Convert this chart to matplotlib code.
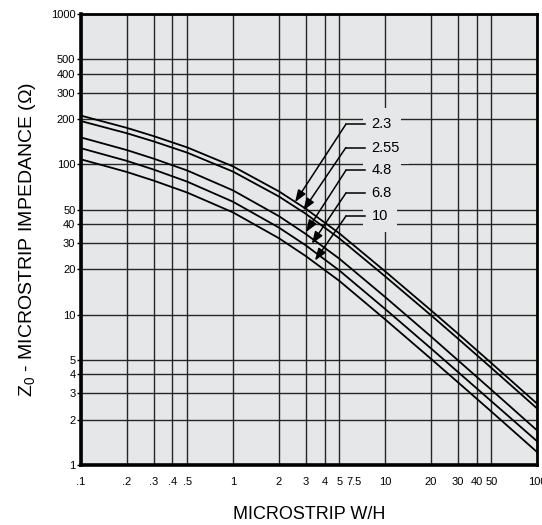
import numpy as np
import matplotlib
matplotlib.use('Agg')
import matplotlib.pyplot as plt
import matplotlib.transforms as mtransforms

plt.rcParams['font.family'] = ['Liberation Sans', 'DejaVu Sans']
plt.rcParams['mathtext.fontset'] = 'custom'
plt.rcParams['mathtext.rm'] = 'Liberation Sans'
plt.rcParams['mathtext.it'] = 'Liberation Sans'

# W/H values and impedance, one list per dielectric constant
wh = [0.1, 0.2, 0.3, 0.5, 1, 2, 3, 5, 10, 20, 30, 50, 100]
z_2_3 = [210.9, 174.9, 154.2, 129.6, 96.9, 66.2, 50.8, 34.8, 19.45, 10.72, 7.52, 4.77, 2.56]
z_2_55 = [194.0, 161.1, 142.2, 119.6, 89.5, 61.2, 47.0, 32.2, 18.01, 9.94, 6.97, 4.43, 2.38]
z_4_8 = [151.0, 124.5, 109.2, 91.0, 67.1, 45.3, 34.5, 23.6, 13.13, 7.18, 5.0, 3.17, 1.70]
z_6_8 = [128.0, 105.5, 92.4, 76.7, 56.4, 38.0, 29.0, 19.7, 10.93, 5.98, 4.18, 2.66, 1.44]
z_10 = [108.0, 89.0, 78.0, 64.9, 47.9, 32.3, 24.6, 16.8, 9.32, 5.10, 3.57, 2.27, 1.22]

curves = [z_2_3, z_2_55, z_4_8, z_6_8, z_10]
er_labels = ['2.3', '2.55', '4.8', '6.8', '10']
# where each arrow points (W/H, Z0)
arrow_tips = [(2.56, 56), (2.9, 49.4), (3.02, 35.4), (3.3, 29.6), (3.46, 22.9)]

x_ticks = [0.1, 0.2, 0.3, 0.4, 0.5, 1, 2, 3, 4, 5, 10, 20, 30, 40, 50, 100]
x_ticklabels = ['.1', '.2', '.3', '.4', '.5', '1', '2', '3', '4', '5', '10', '20', '30', '40', '50', '100']
y_ticks = [1, 2, 3, 4, 5, 10, 20, 30, 40, 50, 100, 200, 300, 400, 500, 1000]

bg = '#e6e7e8'

fig = plt.figure(figsize=(5.42, 5.25), dpi=100)
ax = fig.add_axes([0.1494, 0.1143, 0.8414, 0.859])
ax.set_facecolor(bg)
ax.set_xscale('log')
ax.set_yscale('log')
ax.set_xlim(0.1, 100)
ax.set_ylim(1, 1000)

ax.set_xticks(x_ticks)
ax.set_xticklabels(x_ticklabels)
ax.set_xticks([7.5], minor=True)
ax.set_xticklabels(['7.5'], minor=True)
ax.set_yticks(y_ticks)
ax.set_yticklabels([str(v) for v in y_ticks])
ax.set_yticks([], minor=True)

ax.tick_params(axis='x', which='both', length=0, pad=9, labelsize=8)
ax.tick_params(axis='y', which='major', length=3, width=1, pad=1, labelsize=8)
# shift the crowded 7.5 label a bit to the left, like the original
for lbl in ax.get_xticklabels(minor=True):
    lbl.set_transform(lbl.get_transform() + mtransforms.ScaledTranslation(-12/100, 0, fig.dpi_scale_trans))

ax.grid(True, which='major', color='#262626', lw=1.0)
ax.set_axisbelow(True)
for side in ['top', 'right']:
    ax.spines[side].set_linewidth(2)
for side in ['left', 'bottom']:
    ax.spines[side].set_linewidth(2.6)

for z in curves:
    ax.plot(wh, z, color='black', lw=1.3, zorder=3)

# dielectric constant labels with leader arrows
label_x = 8.18
label_y = [184.8, 129.3, 91.2, 64.4, 45.2]
elbow_x = 5.53
line_end_x = 7.38
for lab, ly, tip in zip(er_labels, label_y, arrow_tips):
    ax.text(label_x, ly, lab, fontsize=10.5, va='center', ha='left', zorder=4,
            bbox=dict(fc=bg, ec='none', pad=6.5))
    ax.plot([elbow_x, line_end_x], [ly, ly], color='black', lw=1.1, zorder=5)
    ax.annotate('', xy=tip, xytext=(elbow_x, ly),
                arrowprops=dict(arrowstyle='-|>,head_length=0.6,head_width=0.22',
                                color='black', lw=1.1, mutation_scale=12,
                                shrinkA=0, shrinkB=0), zorder=5)

ax.set_xlabel('MICROSTRIP W/H', fontsize=13, labelpad=13)
ax.set_ylabel(r'Z$_0$ - MICROSTRIP IMPEDANCE (Ω)', fontsize=14, labelpad=9)

plt.savefig('out.png', dpi=100)
plt.close()
